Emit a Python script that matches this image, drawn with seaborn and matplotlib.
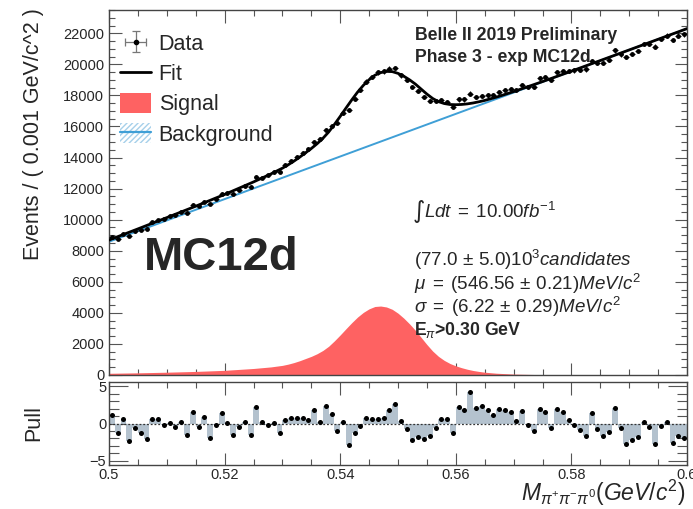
import numpy as np
import pandas as pd
import matplotlib
matplotlib.use("Agg")
import matplotlib.pyplot as plt
import seaborn as sns
from matplotlib.ticker import MultipleLocator, FixedLocator, FixedFormatter
from matplotlib.patches import Patch
from matplotlib.lines import Line2D

# ---------------- data ----------------
# histogram bins: width 0.001 GeV/c^2 from 0.5 to 0.6
bin_centers = np.round(np.arange(0.5005, 0.6, 0.001), 4)

data_counts = [
    8870, 8780, 9100, 8950, 9260, 9350, 9410, 9830, 9970, 10020,
    10210, 10290, 10500, 10460, 10940, 10890, 11170, 11020, 11350, 11670,
    11710, 11680, 11940, 12160, 12120, 12760, 12710, 12850, 13060, 13090,
    13510, 13790, 14030, 14290, 14540, 15020, 15170, 15770, 16060, 16210,
    16880, 17060, 17760, 18350, 18890, 19180, 19480, 19550, 19730, 19780,
    19290, 18980, 18560, 18270, 17900, 17630, 17650, 17700, 17590, 17230,
    17740, 17740, 18120, 17880, 17980, 18000, 18020, 18230, 18330, 18410,
    18360, 18680, 18540, 18550, 19090, 19170, 19020, 19490, 19570, 19560,
    19610, 19640, 19670, 20230, 20070, 20080, 20280, 20900, 20640, 20460,
    20680, 20870, 21310, 21340, 21140, 21630, 21840, 21560, 21840, 21930,
]
data_errors = [
    94, 94, 95, 95, 96, 97, 97, 99, 100, 100,
    101, 101, 102, 102, 105, 104, 106, 105, 107, 108,
    108, 108, 109, 110, 110, 113, 113, 113, 114, 114,
    116, 117, 118, 120, 121, 123, 123, 126, 127, 127,
    130, 131, 133, 135, 137, 138, 140, 140, 140, 141,
    139, 138, 136, 135, 134, 133, 133, 133, 133, 131,
    133, 133, 135, 134, 134, 134, 134, 135, 135, 136,
    136, 137, 136, 136, 138, 138, 138, 140, 140, 140,
    140, 140, 140, 142, 142, 142, 142, 145, 144, 143,
    144, 144, 146, 146, 145, 147, 148, 147, 148, 148,
]
pulls = [
    1.2, -1.3, 0.6, -2.4, -0.6, -1.3, -2.1, 0.67, 0.67, -0.2,
    0.1, -0.5, 0.15, -1.6, 1.6, -0.45, 0.85, -2.0, -0.2, 1.4,
    0.1, -1.55, -0.5, 0.15, -1.6, 2.2, 0.15, -0.15, 0.05, -1.25,
    0.45, 0.8, 0.8, 0.8, 0.45, 1.8, 0.2, 2.3, 1.24, -1.07,
    0.15, -2.85, -1.33, -0.3, 0.8, 0.6, 0.6, 0.8, 1.8, 2.6,
    0.3, -0.75, -2.2, -1.85, -2.1, -1.65, -0.55, 0.6, 0.6, -1.33,
    2.25, 1.8, 4.25, 2.05, 2.35, 1.85, 1.15, 1.9, 1.85, 1.6,
    0.35, 1.75, -0.2, -1.05, 1.9, 1.55, -0.55, 1.9, 1.5, 0.45,
    -0.15, -0.9, -1.65, 1.35, -0.75, -1.65, -1.2, 2.15, -0.55, -2.75,
    -2.2, -1.85, 0.25, -0.45, -2.75, -0.35, 0.15, -2.65, -1.7, -2.0,
]

# curves
curve_x = [0.500, 0.505, 0.510, 0.515, 0.520, 0.525, 0.528, 0.530, 0.531, 0.532,
           0.533, 0.534, 0.535, 0.536, 0.537, 0.538, 0.539, 0.540, 0.541, 0.542,
           0.543, 0.544, 0.545, 0.546, 0.547, 0.548, 0.549, 0.550, 0.551, 0.552,
           0.553, 0.554, 0.555, 0.556, 0.557, 0.558, 0.559, 0.560, 0.561, 0.562,
           0.563, 0.564, 0.565, 0.567, 0.570, 0.575, 0.580, 0.590, 0.600]
signal_y = [110, 140, 180, 230, 300, 420, 520, 620, 700, 800,
            920, 1060, 1200, 1370, 1580, 1850, 2200, 2580, 2980, 3370,
            3730, 4030, 4260, 4410, 4440, 4380, 4230, 3980, 3660, 3290,
            2880, 2420, 1960, 1540, 1200, 940, 740, 590, 470, 370,
            290, 230, 180, 115, 60, 20, 6, 0, 0]
fit_y = [8690, 9406, 10132, 10868, 11624, 12430, 12942, 13316, 13533, 13770,
         14028, 14305, 14582, 14889, 15236, 15644, 16131, 16648, 17185, 17712,
         18210, 18647, 19014, 19301, 19468, 19546, 19533, 19420, 19237, 19004,
         18732, 18409, 18086, 17803, 17600, 17478, 17415, 17402, 17419, 17456,
         17514, 17591, 17678, 17887, 18244, 18890, 19562, 20928, 22300]
bkg_x = [0.500, 0.550, 0.600]
bkg_y = [8580, 15440, 22300]

x_tick_vals = [0.50, 0.52, 0.54, 0.56, 0.58, 0.60]
x_tick_labels = ["0.5", "0.52", "0.54", "0.56", "0.58", "0.6"]
y_tick_vals = list(range(0, 22001, 2000))
pull_tick_vals = [-5, 0, 5]
pull_tick_labels = ["\u22125", "0", "5"]

# ---------------- style ----------------
sns.set_style("ticks")
plt.rcParams["font.family"] = ["Liberation Sans", "DejaVu Sans"]
plt.rcParams["mathtext.fontset"] = "custom"
plt.rcParams["mathtext.rm"] = "Liberation Sans"
plt.rcParams["mathtext.it"] = "Liberation Sans:italic"
plt.rcParams["mathtext.bf"] = "Liberation Sans:bold"

W, H = 693, 509
fig = plt.figure(figsize=(W / 100, H / 100), dpi=100)

def fx(px):
    return px / W

def fy(py):
    return 1 - py / H

ax = fig.add_axes([fx(109), fy(375), fx(687) - fx(109), fy(10) - fy(375)])
axp = fig.add_axes([fx(109), fy(465), fx(687) - fx(109), fy(382) - fy(465)])

SIG_C = "#fe6262"
BKG_C = "#3f9fd6"
PULL_C = "#b4c2ce"
FRAME_C = "#444444"

df = pd.DataFrame({"x": bin_centers, "n": data_counts, "err": data_errors, "pull": pulls})
curves = pd.DataFrame({"x": curve_x, "sig": signal_y, "fit": fit_y})
bkg = pd.DataFrame({"x": bkg_x, "y": bkg_y})

# signal area
ax.fill_between(curves["x"], 0, curves["sig"], color=SIG_C, lw=0, zorder=1)
# background line
sns.lineplot(data=bkg, x="x", y="y", ax=ax, color=BKG_C, lw=1.4, zorder=2,
             estimator=None, sort=False)
# data
ax.errorbar(df["x"], df["n"], yerr=df["err"], xerr=0.0005, fmt="none",
            ecolor="k", elinewidth=0.8, zorder=3)
sns.scatterplot(data=df, x="x", y="n", ax=ax, color="k", s=12, linewidth=0, zorder=4)
# fit
sns.lineplot(data=curves, x="x", y="fit", ax=ax, color="k", lw=2, zorder=5,
             estimator=None, sort=False)

ax.set_xlim(0.5, 0.6)
ax.set_ylim(0, 23500)
ax.set_xlabel("")
ax.set_ylabel("")
ax.yaxis.set_major_locator(FixedLocator(y_tick_vals))
ax.yaxis.set_minor_locator(MultipleLocator(500))
ax.xaxis.set_major_locator(FixedLocator(x_tick_vals))
ax.xaxis.set_minor_locator(MultipleLocator(0.005))
ax.tick_params(axis="x", labelbottom=False)
ax.tick_params(which="both", direction="in", top=True, right=True,
               color="#555555", width=0.8, labelsize=10.5)
ax.tick_params(which="major", length=9)
ax.tick_params(which="minor", length=4.5)

# pull panel
axp.bar(df["x"], df["pull"], width=0.001, color=PULL_C, lw=0, zorder=1)
axp.axhline(0, color="#333333", lw=0.9, ls=(0, (1.5, 1.5)), zorder=2)
sns.scatterplot(data=df, x="x", y="pull", ax=axp, color="k", s=13, linewidth=0, zorder=3)
axp.set_xlim(0.5, 0.6)
axp.set_ylim(-5.6, 5.6)
axp.set_xlabel("")
axp.set_ylabel("")
axp.xaxis.set_major_locator(FixedLocator(x_tick_vals))
axp.xaxis.set_major_formatter(FixedFormatter(x_tick_labels))
axp.xaxis.set_minor_locator(MultipleLocator(0.005))
axp.yaxis.set_major_locator(FixedLocator(pull_tick_vals))
axp.yaxis.set_major_formatter(FixedFormatter(pull_tick_labels))
axp.yaxis.set_minor_locator(MultipleLocator(1))
axp.tick_params(which="both", direction="in", top=True, right=True,
                color="#555555", width=0.8, labelsize=10.5, pad=2)
axp.tick_params(axis="x", which="major", length=9)
axp.tick_params(axis="x", which="minor", length=4.5)
axp.tick_params(axis="y", which="major", length=14)
axp.tick_params(axis="y", which="minor", length=7)

for a in (ax, axp):
    for s in a.spines.values():
        s.set_color(FRAME_C)
        s.set_linewidth(1.0)

# legend
h_data = ax.errorbar([np.nan], [np.nan], xerr=[1], yerr=[1], fmt="o", color="k",
                     ecolor="#777777", elinewidth=0.9, markersize=3, capsize=3,
                     capthick=0.9)
h_fit = Line2D([], [], color="k", lw=2)
h_sig = Patch(facecolor=SIG_C, edgecolor="none")
h_bkg_patch = Patch(facecolor="white", edgecolor="#a6d0ea", hatch="//////", lw=0)
h_bkg_line = Line2D([], [], color=BKG_C, lw=1.6)
leg = ax.legend([h_data, h_fit, h_sig, (h_bkg_patch, h_bkg_line)],
                ["Data", "Fit", "Signal", "Background"],
                loc="upper left", bbox_to_anchor=(fx(120), fy(33)),
                bbox_transform=fig.transFigure, frameon=False,
                fontsize=15.5, handlelength=1.45, handleheight=1.05,
                handletextpad=0.35, labelspacing=0.36, borderpad=0, borderaxespad=0)

# texts
fig.text(fx(415), fy(36), "Belle II 2019 Preliminary", fontsize=12.7,
         fontweight="bold", ha="left", va="center")
fig.text(fx(415), fy(58), "Phase 3 - exp MC12d", fontsize=12.7,
         fontweight="bold", ha="left", va="center")
fig.text(fx(413), fy(211), "\u222b", fontsize=17, ha="left", va="center",
         family=["DejaVu Sans"], fontstyle="normal")
fig.text(fx(424), fy(212), r"$Ldt\;=\;10.00fb^{-1}$", fontsize=13.5,
         ha="left", va="center")
fig.text(fx(414), fy(260), r"$(77.0\,\pm\,5.0)10^{3}candidates$", fontsize=13.5,
         ha="left", va="center")
fig.text(fx(414), fy(284), r"$\mu\;=\;(546.56\,\pm\,0.21)MeV/c^{2}$", fontsize=13.5,
         ha="left", va="center")
fig.text(fx(414), fy(307), r"$\sigma\;=\;(6.22\,\pm\,0.29)MeV/c^{2}$", fontsize=13.5,
         ha="left", va="center")
fig.text(fx(414), fy(330), r"E$_{\pi}$>0.30 GeV", fontsize=12.7,
         fontweight="bold", ha="left", va="center")
fig.text(fx(144), fy(258), "MC12d", fontsize=34, fontweight="bold",
         ha="left", va="center")

fig.text(fx(34), fy(134), "Events / ( 0.001 GeV/c^2 )", fontsize=15.5,
         rotation=90, ha="center", va="center")
fig.text(fx(34), fy(423), "Pull", fontsize=15.5, rotation=90,
         ha="center", va="center")
fig.text(fx(685), fy(493), r"$M_{\pi^{+}\pi^{-}\pi^{0}}(GeV/c^{2})$",
         fontsize=16.5, ha="right", va="center")

fig.savefig("out.png", dpi=100)
